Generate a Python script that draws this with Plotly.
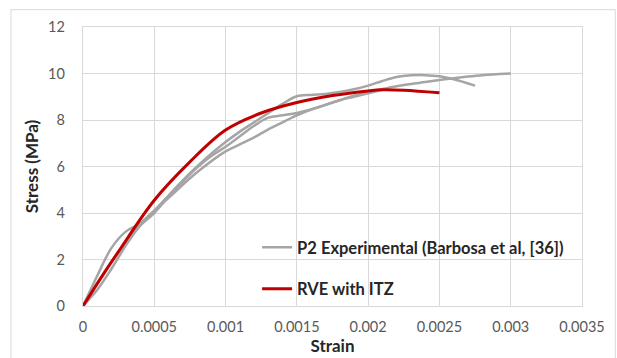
import plotly.graph_objects as go

# ---- data ----
strain_a = [0, 0.0001, 0.0002, 0.0003, 0.0004, 0.0005, 0.0006, 0.0007, 0.0008, 0.0009,
            0.001, 0.0011, 0.0012, 0.0013, 0.0014, 0.0015, 0.0016, 0.0017, 0.0018, 0.0019,
            0.002, 0.0021, 0.0022, 0.0023, 0.0024, 0.0025, 0.0026, 0.00275]
stress_a = [0, 1.3, 2.5, 3.2, 3.55, 4.1, 4.75, 5.4, 6.0, 6.55,
            7.05, 7.5, 7.9, 8.3, 8.7, 9.02, 9.08, 9.12, 9.2, 9.32,
            9.48, 9.68, 9.85, 9.92, 9.93, 9.88, 9.75, 9.48]

strain_b = [0, 0.0001, 0.0002, 0.0003, 0.0004, 0.0005, 0.0006, 0.0007, 0.0008, 0.0009,
            0.001, 0.0011, 0.0012, 0.0013, 0.0014, 0.0015, 0.0016, 0.0017, 0.0018, 0.0019,
            0.002, 0.0021, 0.0022, 0.0023, 0.0024, 0.0025, 0.0026, 0.0027, 0.0028, 0.0029, 0.003]
stress_b = [0, 0.7, 1.6, 2.6, 3.45, 4.0, 4.7, 5.35, 5.95, 6.45,
            6.85, 7.3, 7.75, 8.1, 8.2, 8.3, 8.45, 8.65, 8.85, 9.05,
            9.2, 9.33, 9.45, 9.55, 9.63, 9.72, 9.8, 9.87, 9.93, 9.97, 10.0]

strain_c = [0, 0.0002, 0.0004, 0.0006, 0.0008, 0.001, 0.0011, 0.0012, 0.0013, 0.0014,
            0.0015, 0.0016, 0.0017, 0.0018, 0.0019, 0.002, 0.0021]
stress_c = [0, 1.9, 3.5, 4.65, 5.75, 6.65, 6.95, 7.25, 7.6, 7.9,
            8.2, 8.45, 8.65, 8.85, 9.0, 9.15, 9.3]

strain_rve = [0, 0.000125, 0.00025, 0.0005, 0.00075, 0.001, 0.00125, 0.0015, 0.00175, 0.002, 0.0021, 0.00225, 0.0025]
stress_rve = [0, 1.2, 2.35, 4.55, 6.2, 7.57, 8.3, 8.75, 9.05, 9.25, 9.3, 9.28, 9.17]

x_ticks = [0, 0.0005, 0.001, 0.0015, 0.002, 0.0025, 0.003, 0.0035]
x_tick_labels = ["0", "0.0005", "0.001", "0.0015", "0.002", "0.0025", "0.003", "0.0035"]
y_ticks = [0, 2, 4, 6, 8, 10, 12]

exp_name = "P2 Experimental (Barbosa et al, [36])"
rve_name = "RVE with ITZ"

GRAY = "#a5a5a5"
RED = "#c00000"
FONT = "Lato"

fig = go.Figure()
fig.add_trace(go.Scatter(x=strain_a, y=stress_a, mode="lines", name=exp_name,
                         line=dict(color=GRAY, width=2.5, shape="spline"),
                         legendgroup="exp", showlegend=True))
fig.add_trace(go.Scatter(x=strain_b, y=stress_b, mode="lines", name=exp_name,
                         line=dict(color=GRAY, width=2.5, shape="spline"),
                         legendgroup="exp", showlegend=False))
fig.add_trace(go.Scatter(x=strain_c, y=stress_c, mode="lines", name=exp_name,
                         line=dict(color=GRAY, width=2.5, shape="spline"),
                         legendgroup="exp", showlegend=False))
fig.add_trace(go.Scatter(x=strain_rve, y=stress_rve, mode="lines", name=rve_name,
                         line=dict(color=RED, width=3, shape="spline"),
                         legendgroup="rve"))

L, R, T, B = 83, 35.3, 27.3, 52.3
W, H = 617, 358
pw, ph = W - L - R, H - T - B


def px_x(p):
    return (p - L) / pw


def px_y(p):
    return (H - B - p) / ph


fig.add_shape(type="rect", xref="paper", yref="paper",
              x0=px_x(11), x1=px_x(615), y0=px_y(365), y1=px_y(10),
              line=dict(color="#d9d9d9", width=1), fillcolor="rgba(0,0,0,0)", layer="below")

fig.update_layout(
    width=W, height=H,
    margin=dict(l=L, r=R, t=T, b=B, pad=0, autoexpand=False),
    paper_bgcolor="white", plot_bgcolor="white",
    font=dict(family=FONT, size=14.5, color="#595959"),
    legend=dict(x=px_x(257), y=px_y(230), xanchor="left", yanchor="top",
                bgcolor="rgba(0,0,0,0)", tracegroupgap=17,
                font=dict(family=FONT, size=16.5, color="#262626", weight="bold")),
    xaxis=dict(range=[0, 0.0035], tickvals=x_ticks, ticktext=x_tick_labels,
               showgrid=True, gridcolor="#d9d9d9", gridwidth=1.3,
               showline=True, linecolor="#d9d9d9", linewidth=1.3, mirror=True,
               zeroline=False, ticks="outside", ticklen=7, tickcolor="rgba(0,0,0,0)",
               automargin=False,
               title=dict(text="Strain", standoff=0,
                          font=dict(family=FONT, size=17, color="#262626", weight="bold"))),
    yaxis=dict(range=[0, 12], tickvals=y_ticks,
               showgrid=True, gridcolor="#d9d9d9", gridwidth=1.3,
               showline=True, linecolor="#d9d9d9", linewidth=1.3, mirror=True,
               zeroline=False, ticks="outside", ticklen=14, tickcolor="rgba(0,0,0,0)",
               automargin=False,
               title=dict(text="Stress (MPa)", standoff=5,
                          font=dict(family=FONT, size=17, color="#262626", weight="bold"))),
)

fig.write_html("out.html")
